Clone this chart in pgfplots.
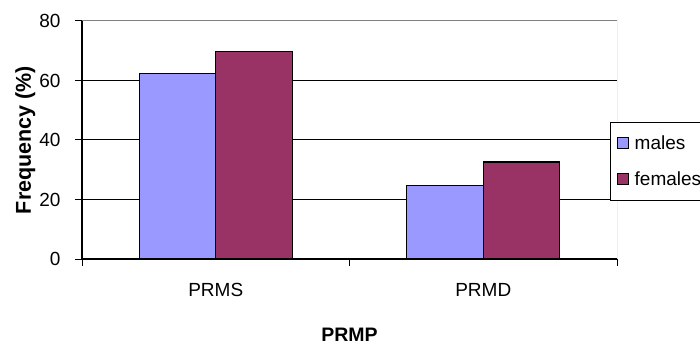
\documentclass[border=0pt]{standalone}
\usepackage{fontspec}
\setmainfont{Liberation Sans}
\usepackage{pgfplots}
\pgfplotsset{compat=1.18}
\definecolor{males}{HTML}{9999FF}
\definecolor{females}{HTML}{993366}
\begin{document}
\begin{tikzpicture}
\useasboundingbox (-82bp,-87bp) rectangle (618bp,259bp);
\begin{axis}[
  at={(0,0)}, anchor=south west,
  scale only axis, width=535bp, height=238bp,
  xmin=-0.5, xmax=1.5, ymin=0, ymax=80,
  ybar=0pt, bar width=0.286,
  /pgf/number format/assume math mode=true,
  font=\fontsize{19bp}{22bp}\selectfont,
  tick label style={font=\fontsize{19bp}{22bp}\selectfont},
  yticklabel style={xshift=-11.5bp},
  xtick={-0.5,0.5,1.5}, xticklabels={},
  extra x ticks={0,1}, extra x tick labels={PRMS,PRMD},
  extra x tick style={major tick length=0pt, tick style={draw=none},
    xticklabel style={yshift=-20.5bp}},
  ytick={0,20,40,60,80},
  tick align=outside, major tick length=6.5bp,
  tick style={black, line width=1bp},
  ymajorgrids, grid style={black, line width=1bp},
  axis x line*=bottom, axis y line*=left,
  axis line style={black, line width=1.5bp, -},
  xlabel={\bfseries PRMP},
  ylabel={\bfseries Frequency (\%)},
  xlabel style={at={(axis description cs:0.5,0)}, anchor=base, yshift=-82bp, font=\fontsize{19.5bp}{22bp}\selectfont},
  ylabel style={at={(axis description cs:0,0.5)}, anchor=base, yshift=51bp, font=\fontsize{21.5bp}{24bp}\selectfont},
  legend style={at={(0.987,0.5756)}, anchor=north west, draw=black, line width=1bp,
    fill=white, font=\fontsize{19bp}{22bp}\selectfont, row sep=17bp, inner xsep=6bp, inner ysep=11bp},
  legend cell align=left,
]
\addplot[fill=males, draw=black, line width=1.3bp,
  legend image code/.code={\draw[fill=males, draw=black, line width=1bp] (0bp,-5.5bp) rectangle (11bp,5.5bp); \path (15bp,0bp);}]
  coordinates {(0,62.4) (1,24.6)};
\addplot[fill=females, draw=black, line width=1.3bp,
  legend image code/.code={\draw[fill=females, draw=black, line width=1bp] (0bp,-5.5bp) rectangle (11bp,5.5bp); \path (15bp,0bp);}]
  coordinates {(0,69.7) (1,32.6)};
\legend{males,females}
\draw[gray, line width=1bp] (rel axis cs:0,1) -- (rel axis cs:1,1) -- (rel axis cs:1,0);
\end{axis}
\end{tikzpicture}
\end{document}
